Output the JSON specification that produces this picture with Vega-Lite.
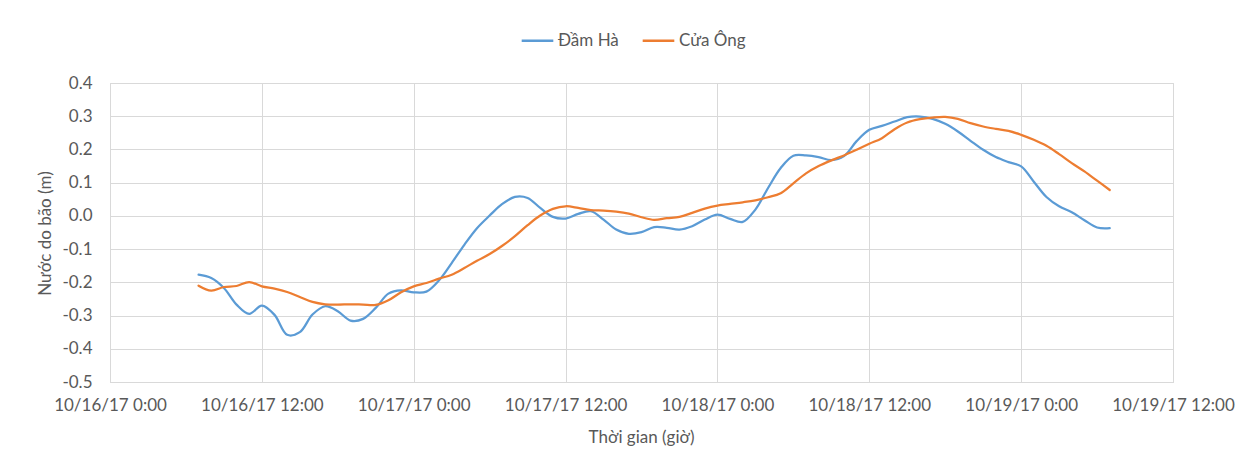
{
  "$schema": "https://vega.github.io/schema/vega-lite/v6.json",
  "width": 1063,
  "height": 299,
  "autosize": {"type": "none"},
  "padding": {"left": 110, "top": 83, "right": 79, "bottom": 81},
  "background": "#ffffff",
  "config": {
    "font": "Lato",
    "view": {"stroke": "#d9d9d9", "strokeWidth": 1},
    "axis": {
      "labelFont": "Lato",
      "labelFontSize": 17,
      "labelColor": "#595959",
      "titleFont": "Lato",
      "titleFontSize": 17,
      "titleFontWeight": "normal",
      "titleColor": "#595959",
      "gridColor": "#d9d9d9",
      "domainColor": "#d9d9d9",
      "ticks": false
    },
    "legend": {
      "labelFont": "Lato",
      "labelFontSize": 17,
      "labelColor": "#595959"
    }
  },
  "data": {
    "values": [
      {"t": "2017-10-16T07:00:00Z", "s": "Đầm Hà", "v": -0.177},
      {"t": "2017-10-16T08:00:00Z", "s": "Đầm Hà", "v": -0.187},
      {"t": "2017-10-16T09:00:00Z", "s": "Đầm Hà", "v": -0.217},
      {"t": "2017-10-16T10:00:00Z", "s": "Đầm Hà", "v": -0.267},
      {"t": "2017-10-16T11:00:00Z", "s": "Đầm Hà", "v": -0.295},
      {"t": "2017-10-16T12:00:00Z", "s": "Đầm Hà", "v": -0.270},
      {"t": "2017-10-16T13:00:00Z", "s": "Đầm Hà", "v": -0.298},
      {"t": "2017-10-16T14:00:00Z", "s": "Đầm Hà", "v": -0.358},
      {"t": "2017-10-16T15:00:00Z", "s": "Đầm Hà", "v": -0.350},
      {"t": "2017-10-16T16:00:00Z", "s": "Đầm Hà", "v": -0.297},
      {"t": "2017-10-16T17:00:00Z", "s": "Đầm Hà", "v": -0.272},
      {"t": "2017-10-16T18:00:00Z", "s": "Đầm Hà", "v": -0.287},
      {"t": "2017-10-16T19:00:00Z", "s": "Đầm Hà", "v": -0.315},
      {"t": "2017-10-16T20:00:00Z", "s": "Đầm Hà", "v": -0.310},
      {"t": "2017-10-16T21:00:00Z", "s": "Đầm Hà", "v": -0.277},
      {"t": "2017-10-16T22:00:00Z", "s": "Đầm Hà", "v": -0.234},
      {"t": "2017-10-16T23:00:00Z", "s": "Đầm Hà", "v": -0.224},
      {"t": "2017-10-17T00:00:00Z", "s": "Đầm Hà", "v": -0.230},
      {"t": "2017-10-17T01:00:00Z", "s": "Đầm Hà", "v": -0.228},
      {"t": "2017-10-17T02:00:00Z", "s": "Đầm Hà", "v": -0.194},
      {"t": "2017-10-17T03:00:00Z", "s": "Đầm Hà", "v": -0.142},
      {"t": "2017-10-17T04:00:00Z", "s": "Đầm Hà", "v": -0.087},
      {"t": "2017-10-17T05:00:00Z", "s": "Đầm Hà", "v": -0.037},
      {"t": "2017-10-17T06:00:00Z", "s": "Đầm Hà", "v": 0.001},
      {"t": "2017-10-17T07:00:00Z", "s": "Đầm Hà", "v": 0.036},
      {"t": "2017-10-17T08:00:00Z", "s": "Đầm Hà", "v": 0.057},
      {"t": "2017-10-17T09:00:00Z", "s": "Đầm Hà", "v": 0.054},
      {"t": "2017-10-17T10:00:00Z", "s": "Đầm Hà", "v": 0.024},
      {"t": "2017-10-17T11:00:00Z", "s": "Đầm Hà", "v": -0.003},
      {"t": "2017-10-17T12:00:00Z", "s": "Đầm Hà", "v": -0.008},
      {"t": "2017-10-17T13:00:00Z", "s": "Đầm Hà", "v": 0.006},
      {"t": "2017-10-17T14:00:00Z", "s": "Đầm Hà", "v": 0.014},
      {"t": "2017-10-17T15:00:00Z", "s": "Đầm Hà", "v": -0.011},
      {"t": "2017-10-17T16:00:00Z", "s": "Đầm Hà", "v": -0.041},
      {"t": "2017-10-17T17:00:00Z", "s": "Đầm Hà", "v": -0.054},
      {"t": "2017-10-17T18:00:00Z", "s": "Đầm Hà", "v": -0.049},
      {"t": "2017-10-17T19:00:00Z", "s": "Đầm Hà", "v": -0.034},
      {"t": "2017-10-17T20:00:00Z", "s": "Đầm Hà", "v": -0.036},
      {"t": "2017-10-17T21:00:00Z", "s": "Đầm Hà", "v": -0.041},
      {"t": "2017-10-17T22:00:00Z", "s": "Đầm Hà", "v": -0.031},
      {"t": "2017-10-17T23:00:00Z", "s": "Đầm Hà", "v": -0.011},
      {"t": "2017-10-18T00:00:00Z", "s": "Đầm Hà", "v": 0.004},
      {"t": "2017-10-18T01:00:00Z", "s": "Đầm Hà", "v": -0.009},
      {"t": "2017-10-18T02:00:00Z", "s": "Đầm Hà", "v": -0.018},
      {"t": "2017-10-18T03:00:00Z", "s": "Đầm Hà", "v": 0.019},
      {"t": "2017-10-18T04:00:00Z", "s": "Đầm Hà", "v": 0.084},
      {"t": "2017-10-18T05:00:00Z", "s": "Đầm Hà", "v": 0.144},
      {"t": "2017-10-18T06:00:00Z", "s": "Đầm Hà", "v": 0.181},
      {"t": "2017-10-18T07:00:00Z", "s": "Đầm Hà", "v": 0.182},
      {"t": "2017-10-18T08:00:00Z", "s": "Đầm Hà", "v": 0.177},
      {"t": "2017-10-18T09:00:00Z", "s": "Đầm Hà", "v": 0.168},
      {"t": "2017-10-18T10:00:00Z", "s": "Đầm Hà", "v": 0.180},
      {"t": "2017-10-18T11:00:00Z", "s": "Đầm Hà", "v": 0.225},
      {"t": "2017-10-18T12:00:00Z", "s": "Đầm Hà", "v": 0.259},
      {"t": "2017-10-18T13:00:00Z", "s": "Đầm Hà", "v": 0.271},
      {"t": "2017-10-18T14:00:00Z", "s": "Đầm Hà", "v": 0.284},
      {"t": "2017-10-18T15:00:00Z", "s": "Đầm Hà", "v": 0.297},
      {"t": "2017-10-18T16:00:00Z", "s": "Đầm Hà", "v": 0.299},
      {"t": "2017-10-18T17:00:00Z", "s": "Đầm Hà", "v": 0.292},
      {"t": "2017-10-18T18:00:00Z", "s": "Đầm Hà", "v": 0.277},
      {"t": "2017-10-18T19:00:00Z", "s": "Đầm Hà", "v": 0.254},
      {"t": "2017-10-18T20:00:00Z", "s": "Đầm Hà", "v": 0.226},
      {"t": "2017-10-18T21:00:00Z", "s": "Đầm Hà", "v": 0.199},
      {"t": "2017-10-18T22:00:00Z", "s": "Đầm Hà", "v": 0.177},
      {"t": "2017-10-18T23:00:00Z", "s": "Đầm Hà", "v": 0.162},
      {"t": "2017-10-19T00:00:00Z", "s": "Đầm Hà", "v": 0.149},
      {"t": "2017-10-19T01:00:00Z", "s": "Đầm Hà", "v": 0.103},
      {"t": "2017-10-19T02:00:00Z", "s": "Đầm Hà", "v": 0.057},
      {"t": "2017-10-19T03:00:00Z", "s": "Đầm Hà", "v": 0.029},
      {"t": "2017-10-19T04:00:00Z", "s": "Đầm Hà", "v": 0.011},
      {"t": "2017-10-19T05:00:00Z", "s": "Đầm Hà", "v": -0.013},
      {"t": "2017-10-19T06:00:00Z", "s": "Đầm Hà", "v": -0.035},
      {"t": "2017-10-19T07:00:00Z", "s": "Đầm Hà", "v": -0.037},
      {"t": "2017-10-16T07:00:00Z", "s": "Cửa Ông", "v": -0.210},
      {"t": "2017-10-16T08:00:00Z", "s": "Cửa Ông", "v": -0.225},
      {"t": "2017-10-16T09:00:00Z", "s": "Cửa Ông", "v": -0.214},
      {"t": "2017-10-16T10:00:00Z", "s": "Cửa Ông", "v": -0.211},
      {"t": "2017-10-16T11:00:00Z", "s": "Cửa Ông", "v": -0.199},
      {"t": "2017-10-16T12:00:00Z", "s": "Cửa Ông", "v": -0.212},
      {"t": "2017-10-16T13:00:00Z", "s": "Cửa Ông", "v": -0.219},
      {"t": "2017-10-16T14:00:00Z", "s": "Cửa Ông", "v": -0.229},
      {"t": "2017-10-16T15:00:00Z", "s": "Cửa Ông", "v": -0.244},
      {"t": "2017-10-16T16:00:00Z", "s": "Cửa Ông", "v": -0.259},
      {"t": "2017-10-16T17:00:00Z", "s": "Cửa Ông", "v": -0.266},
      {"t": "2017-10-16T18:00:00Z", "s": "Cửa Ông", "v": -0.267},
      {"t": "2017-10-16T19:00:00Z", "s": "Cửa Ông", "v": -0.266},
      {"t": "2017-10-16T20:00:00Z", "s": "Cửa Ông", "v": -0.267},
      {"t": "2017-10-16T21:00:00Z", "s": "Cửa Ông", "v": -0.268},
      {"t": "2017-10-16T22:00:00Z", "s": "Cửa Ông", "v": -0.254},
      {"t": "2017-10-16T23:00:00Z", "s": "Cửa Ông", "v": -0.230},
      {"t": "2017-10-17T00:00:00Z", "s": "Cửa Ông", "v": -0.212},
      {"t": "2017-10-17T01:00:00Z", "s": "Cửa Ông", "v": -0.202},
      {"t": "2017-10-17T02:00:00Z", "s": "Cửa Ông", "v": -0.189},
      {"t": "2017-10-17T03:00:00Z", "s": "Cửa Ông", "v": -0.177},
      {"t": "2017-10-17T04:00:00Z", "s": "Cửa Ông", "v": -0.157},
      {"t": "2017-10-17T05:00:00Z", "s": "Cửa Ông", "v": -0.135},
      {"t": "2017-10-17T06:00:00Z", "s": "Cửa Ông", "v": -0.115},
      {"t": "2017-10-17T07:00:00Z", "s": "Cửa Ông", "v": -0.090},
      {"t": "2017-10-17T08:00:00Z", "s": "Cửa Ông", "v": -0.061},
      {"t": "2017-10-17T09:00:00Z", "s": "Cửa Ông", "v": -0.028},
      {"t": "2017-10-17T10:00:00Z", "s": "Cửa Ông", "v": 0.001},
      {"t": "2017-10-17T11:00:00Z", "s": "Cửa Ông", "v": 0.021},
      {"t": "2017-10-17T12:00:00Z", "s": "Cửa Ông", "v": 0.029},
      {"t": "2017-10-17T13:00:00Z", "s": "Cửa Ông", "v": 0.024},
      {"t": "2017-10-17T14:00:00Z", "s": "Cửa Ông", "v": 0.017},
      {"t": "2017-10-17T15:00:00Z", "s": "Cửa Ông", "v": 0.016},
      {"t": "2017-10-17T16:00:00Z", "s": "Cửa Ông", "v": 0.013},
      {"t": "2017-10-17T17:00:00Z", "s": "Cửa Ông", "v": 0.007},
      {"t": "2017-10-17T18:00:00Z", "s": "Cửa Ông", "v": -0.004},
      {"t": "2017-10-17T19:00:00Z", "s": "Cửa Ông", "v": -0.012},
      {"t": "2017-10-17T20:00:00Z", "s": "Cửa Ông", "v": -0.007},
      {"t": "2017-10-17T21:00:00Z", "s": "Cửa Ông", "v": -0.003},
      {"t": "2017-10-17T22:00:00Z", "s": "Cửa Ông", "v": 0.009},
      {"t": "2017-10-17T23:00:00Z", "s": "Cửa Ông", "v": 0.022},
      {"t": "2017-10-18T00:00:00Z", "s": "Cửa Ông", "v": 0.031},
      {"t": "2017-10-18T01:00:00Z", "s": "Cửa Ông", "v": 0.036},
      {"t": "2017-10-18T02:00:00Z", "s": "Cửa Ông", "v": 0.041},
      {"t": "2017-10-18T03:00:00Z", "s": "Cửa Ông", "v": 0.047},
      {"t": "2017-10-18T04:00:00Z", "s": "Cửa Ông", "v": 0.056},
      {"t": "2017-10-18T05:00:00Z", "s": "Cửa Ông", "v": 0.068},
      {"t": "2017-10-18T06:00:00Z", "s": "Cửa Ông", "v": 0.098},
      {"t": "2017-10-18T07:00:00Z", "s": "Cửa Ông", "v": 0.128},
      {"t": "2017-10-18T08:00:00Z", "s": "Cửa Ông", "v": 0.150},
      {"t": "2017-10-18T09:00:00Z", "s": "Cửa Ông", "v": 0.167},
      {"t": "2017-10-18T10:00:00Z", "s": "Cửa Ông", "v": 0.182},
      {"t": "2017-10-18T11:00:00Z", "s": "Cửa Ông", "v": 0.199},
      {"t": "2017-10-18T12:00:00Z", "s": "Cửa Ông", "v": 0.217},
      {"t": "2017-10-18T13:00:00Z", "s": "Cửa Ông", "v": 0.234},
      {"t": "2017-10-18T14:00:00Z", "s": "Cửa Ông", "v": 0.261},
      {"t": "2017-10-18T15:00:00Z", "s": "Cửa Ông", "v": 0.281},
      {"t": "2017-10-18T16:00:00Z", "s": "Cửa Ông", "v": 0.291},
      {"t": "2017-10-18T17:00:00Z", "s": "Cửa Ông", "v": 0.296},
      {"t": "2017-10-18T18:00:00Z", "s": "Cửa Ông", "v": 0.298},
      {"t": "2017-10-18T19:00:00Z", "s": "Cửa Ông", "v": 0.292},
      {"t": "2017-10-18T20:00:00Z", "s": "Cửa Ông", "v": 0.279},
      {"t": "2017-10-18T21:00:00Z", "s": "Cửa Ông", "v": 0.269},
      {"t": "2017-10-18T22:00:00Z", "s": "Cửa Ông", "v": 0.262},
      {"t": "2017-10-18T23:00:00Z", "s": "Cửa Ông", "v": 0.256},
      {"t": "2017-10-19T00:00:00Z", "s": "Cửa Ông", "v": 0.244},
      {"t": "2017-10-19T01:00:00Z", "s": "Cửa Ông", "v": 0.229},
      {"t": "2017-10-19T02:00:00Z", "s": "Cửa Ông", "v": 0.211},
      {"t": "2017-10-19T03:00:00Z", "s": "Cửa Ông", "v": 0.186},
      {"t": "2017-10-19T04:00:00Z", "s": "Cửa Ông", "v": 0.159},
      {"t": "2017-10-19T05:00:00Z", "s": "Cửa Ông", "v": 0.134},
      {"t": "2017-10-19T06:00:00Z", "s": "Cửa Ông", "v": 0.106},
      {"t": "2017-10-19T07:00:00Z", "s": "Cửa Ông", "v": 0.078}
    ]
  },
  "mark": {"type": "line", "interpolate": "catmull-rom", "strokeWidth": 2.25, "strokeCap": "round", "strokeJoin": "round"},
  "encoding": {
    "x": {
      "field": "t",
      "type": "temporal",
      "scale": {
        "type": "utc",
        "domain": [
          {"year": 2017, "month": 10, "date": 16, "hours": 0, "utc": true},
          {"year": 2017, "month": 10, "date": 19, "hours": 12, "utc": true}
        ],
        "nice": false
      },
      "axis": {
        "values": [
          {"year": 2017, "month": 10, "date": 16, "hours": 0, "utc": true},
          {"year": 2017, "month": 10, "date": 16, "hours": 12, "utc": true},
          {"year": 2017, "month": 10, "date": 17, "hours": 0, "utc": true},
          {"year": 2017, "month": 10, "date": 17, "hours": 12, "utc": true},
          {"year": 2017, "month": 10, "date": 18, "hours": 0, "utc": true},
          {"year": 2017, "month": 10, "date": 18, "hours": 12, "utc": true},
          {"year": 2017, "month": 10, "date": 19, "hours": 0, "utc": true},
          {"year": 2017, "month": 10, "date": 19, "hours": 12, "utc": true}
        ],
        "labelExpr": "utcFormat(datum.value, '%-m/%-d/%y %-H:%M')",
        "labelPadding": 15,
        "labelFlush": false,
        "labelOverlap": false,
        "title": "Thời gian (giờ)",
        "titleX": 531,
        "titleY": 55,
        "titleBaseline": "middle",
        "titleAlign": "center"
      }
    },
    "y": {
      "field": "v",
      "type": "quantitative",
      "scale": {"domain": [-0.5, 0.4], "nice": false, "zero": false},
      "axis": {
        "values": [-0.5, -0.4, -0.3, -0.2, -0.1, 0, 0.1, 0.2, 0.3, 0.4],
        "labelExpr": "replace(format(datum.value, '.1f'), '\u2212', '-')",
        "labelPadding": 18,
        "labelFlush": false,
        "title": "Nước do bão (m)",
        "titleAngle": -90,
        "titleX": -65,
        "titleY": 150,
        "titleBaseline": "middle",
        "titleAlign": "center"
      }
    },
    "color": {
      "field": "s",
      "type": "nominal",
      "scale": {"domain": ["Đầm Hà", "Cửa Ông"], "range": ["#5B9BD5", "#ED7D31"]},
      "legend": {
        "title": null,
        "orient": "none",
        "direction": "horizontal",
        "legendX": 410,
        "legendY": -60,
        "symbolType": "stroke",
        "symbolSize": 1000,
        "symbolStrokeWidth": 2.5,
        "labelOffset": 3,
        "columnPadding": 18
      }
    }
  }
}
